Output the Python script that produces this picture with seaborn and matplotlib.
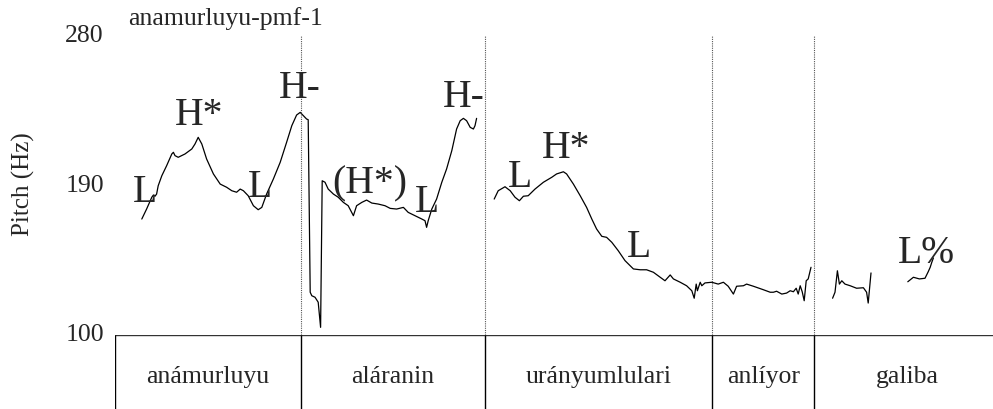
import matplotlib
matplotlib.use("Agg")
import matplotlib.pyplot as plt
import matplotlib.transforms as mtransforms
import seaborn as sns
import pandas as pd

# pitch track pieces (time in s, pitch in Hz)
t1 = [0.067, 0.079, 0.092, 0.096, 0.100, 0.104, 0.108, 0.117, 0.129, 0.142, 0.146, 0.150,
      0.158, 0.175, 0.192, 0.200, 0.208, 0.217, 0.229, 0.246, 0.263, 0.279, 0.292, 0.304,
      0.313, 0.321, 0.333, 0.346, 0.358, 0.367, 0.379, 0.396, 0.413, 0.429, 0.442, 0.454,
      0.463, 0.471, 0.479, 0.483, 0.488, 0.492, 0.500, 0.508, 0.514, 0.518, 0.525, 0.533,
      0.546, 0.558, 0.571, 0.583, 0.596, 0.604, 0.617, 0.629, 0.642, 0.658, 0.675, 0.688,
      0.704, 0.721, 0.733, 0.750, 0.767, 0.775, 0.779, 0.783, 0.792, 0.804, 0.817, 0.829,
      0.842, 0.854, 0.863, 0.871, 0.879, 0.888, 0.896, 0.900, 0.904]
p1 = [169.7, 175.7, 182.8, 184.1, 183.4, 184.7, 189.7, 195.7, 201.7, 208.8, 209.8, 207.8,
      206.8, 208.8, 211.8, 214.8, 218.8, 214.8, 205.8, 196.8, 190.7, 188.8, 186.7, 185.8,
      187.7, 186.7, 183.7, 177.7, 175.3, 176.7, 184.7, 193.8, 203.8, 215.8, 225.8, 232.2,
      233.8, 231.8, 229.8, 229.4, 125.7, 123.6, 122.7, 119.7, 104.6, 192.7, 191.8, 187.7,
      184.7, 182.8, 179.7, 177.7, 171.7, 177.7, 179.7, 181.1, 179.3, 178.7, 177.7, 176.1,
      175.7, 176.7, 173.7, 171.7, 169.7, 168.7, 164.7, 168.7, 175.7, 181.7, 191.8, 199.8,
      210.8, 223.8, 228.8, 230.2, 228.8, 224.8, 223.8, 225.8, 230.2]

t2 = [0.948, 0.958, 0.975, 0.988, 1.000, 1.011, 1.021, 1.033, 1.050, 1.071, 1.092, 1.104,
      1.121, 1.129, 1.146, 1.163, 1.179, 1.192, 1.204, 1.217, 1.229, 1.242, 1.258, 1.275,
      1.296, 1.313, 1.329, 1.346, 1.363, 1.375, 1.388, 1.396, 1.413, 1.429, 1.442, 1.448,
      1.453, 1.456, 1.463, 1.467, 1.475, 1.492, 1.508, 1.521, 1.533, 1.546, 1.554, 1.571,
      1.579, 1.596, 1.621, 1.638, 1.646, 1.654, 1.667, 1.679, 1.688, 1.696, 1.703, 1.708,
      1.713, 1.718, 1.723, 1.728, 1.733, 1.740]
p2 = [181.7, 186.7, 189.1, 186.7, 182.8, 180.7, 183.4, 183.7, 187.7, 191.8, 194.8, 196.8,
      198.1, 196.8, 190.7, 183.7, 176.7, 169.7, 163.7, 159.3, 158.7, 155.7, 150.7, 144.7,
      139.7, 139.2, 139.2, 137.7, 134.7, 132.6, 136.1, 133.7, 131.7, 129.6, 126.6, 122.1,
      130.6, 126.6, 131.7, 129.6, 131.3, 131.7, 130.6, 131.7, 129.3, 124.6, 129.3, 129.6,
      130.6, 129.3, 127.2, 125.7, 125.7, 126.3, 124.6, 125.2, 126.6, 126.0, 128.1, 124.6,
      129.6, 126.0, 120.6, 132.6, 133.7, 140.7]

t3 = [1.794, 1.800, 1.806, 1.811, 1.817, 1.825, 1.838, 1.854, 1.871, 1.879, 1.883, 1.890]
p3 = [122.1, 125.7, 138.6, 130.6, 132.6, 130.6, 129.6, 128.1, 128.4, 125.7, 119.2, 137.3]

t4 = [1.982, 1.996, 2.011, 2.025, 2.033, 2.038, 2.042, 2.046]
p4 = [132.0, 134.7, 133.7, 134.1, 138.0, 140.7, 143.7, 146.3]

# tones (left edge time, baseline pitch)
tones = ['L', 'H*', 'L', 'H-', '(H*)', 'L', 'H-', 'L', 'H*', 'L', 'L%']
tone_t = [0.045, 0.150, 0.3325, 0.410, 0.5425, 0.750, 0.820, 0.9825, 1.0675, 1.280, 1.9575]
tone_p = [180.5, 226.8, 183.5, 243.0, 185.9, 174.5, 237.6, 189.5, 207.0, 147.5, 143.9]

# word tier
words = ['anámurluyu', 'aláranin', 'urányumlulari', 'anlíyor', 'galiba']
bounds = [0.0, 0.465, 0.9255, 1.493, 1.748, 2.2125]

df = pd.concat([
    pd.DataFrame({'time': t, 'pitch': p, 'seg': i})
    for i, (t, p) in enumerate([(t1, p1), (t2, p2), (t3, p3), (t4, p4)])
])

sns.set_style('white')
plt.rcParams['font.family'] = ['Liberation Serif', 'DejaVu Serif']

fig = plt.figure(figsize=(9.93, 4.10), dpi=100)
ax = fig.add_axes([115/993, 1-336/410, 885/993, 299.5/410])
ax2 = fig.add_axes([115/993, -4/410, 885/993, 78/410])

sns.lineplot(data=df, x='time', y='pitch', units='seg', estimator=None, sort=False,
             color='black', lw=0.9, ax=ax)
ax.set_xlim(bounds[0], bounds[-1])
ax.set_ylim(100, 280)
ax.vlines(bounds[1:-1], 100, 280, colors='#555555', linestyles=(0, (1, 1)), lw=0.8)
for s in ax.spines.values():
    s.set_visible(False)
ax.set_xticks([])
ax.set_yticks([100, 190, 280])
ax.tick_params(axis='y', length=0, pad=8, labelsize=18.5)
ax.set_xlabel('')
ax.set_ylabel('')
shift = mtransforms.ScaledTranslation(0, 3/100, fig.dpi_scale_trans)
for lab in ax.get_yticklabels():
    lab.set_transform(lab.get_transform() + shift)

for lab, t, p in zip(tones, tone_t, tone_p):
    ax.text(t, p, lab, fontsize=28.5, ha='left', va='baseline')

# word tier box
ax2.set_xlim(bounds[0], bounds[-1])
ax2.set_ylim(0, 1)
for s in ax2.spines.values():
    s.set_visible(False)
ax2.set_xticks([])
ax2.set_yticks([])
ax2.axhline(1, color='#333333', lw=1.0)
ax2.vlines(bounds[:-1], 0, 1, colors='black', lw=1.0)
for w, a, b in zip(words, bounds[:-1], bounds[1:]):
    ax2.text((a + b) / 2, 0.48, w, fontsize=18.5, ha='center', va='center')

fig.text(128/993, 1-25/410, 'anamurluyu-pmf-1', fontsize=18.5, ha='left', va='baseline')
fig.text(23/993, 1-184/410, 'Pitch (Hz)', fontsize=18, rotation=90, ha='center', va='center')

fig.savefig('out.png', dpi=100)
